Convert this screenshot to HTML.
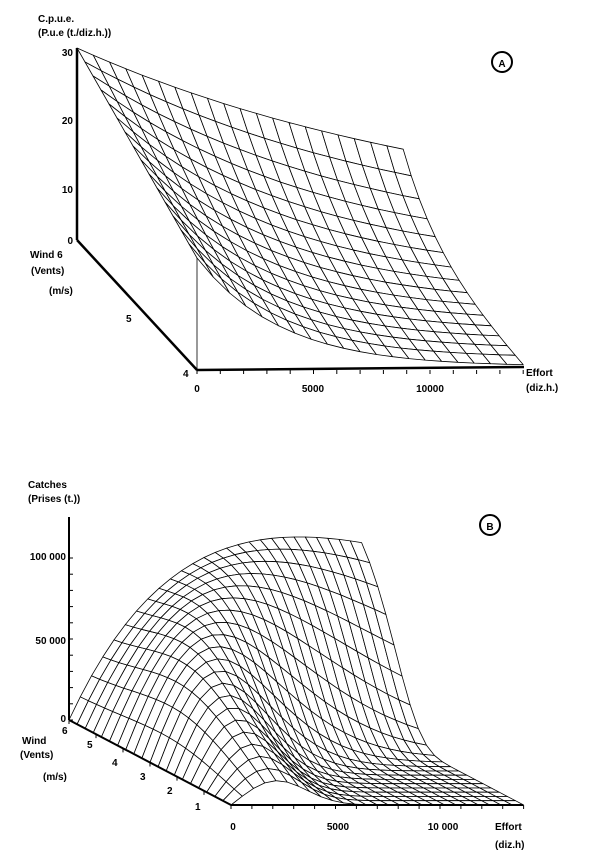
<!DOCTYPE html>
<html><head><meta charset="utf-8"><style>
html,body{margin:0;padding:0;background:#fff;}
svg{display:block;}
text{font-family:"Liberation Sans",sans-serif;font-weight:bold;font-size:10px;fill:#000;}
</style></head><body>
<svg id="s" width="600" height="857" viewBox="0 0 600 857" xmlns="http://www.w3.org/2000/svg">
<g id="A"></g><g id="B"></g>
<g stroke="#000" fill="none">
<line x1="77" y1="48" x2="77" y2="240" stroke-width="2.5"/>
<line x1="77" y1="240" x2="197" y2="370" stroke-width="2.5"/>
<line x1="197" y1="370" x2="524" y2="367" stroke-width="2.5"/>
<line x1="197" y1="258" x2="197" y2="370" stroke-width="0.8"/>
<circle cx="502" cy="62" r="10" stroke-width="2"/>
<line x1="69" y1="517" x2="69" y2="720" stroke-width="2"/>
<line x1="69" y1="720" x2="231" y2="805" stroke-width="2"/>
<line x1="231" y1="805" x2="523" y2="805" stroke-width="2"/>
<circle cx="490" cy="525" r="10" stroke-width="2"/>
</g>
<g id="ticks" stroke="#000" stroke-width="1"></g>
<text x="38" y="22">C.p.u.e.</text>
<text x="38" y="36">(P.u.e (t./diz.h.))</text>
<text x="73" y="56" text-anchor="end" font-size="11">30</text>
<text x="73" y="124" text-anchor="end" font-size="11">20</text>
<text x="73" y="193" text-anchor="end" font-size="11">10</text>
<text x="73" y="244" text-anchor="end" font-size="11">0</text>
<text x="30" y="258">Wind 6</text>
<text x="31" y="274">(Vents)</text>
<text x="49" y="294">(m/s)</text>
<text x="126" y="322" font-size="11">5</text>
<text x="183" y="377" font-size="11">4</text>
<text x="197" y="392" text-anchor="middle" font-size="11">0</text>
<text x="313" y="392" text-anchor="middle" font-size="11">5000</text>
<text x="430" y="392" text-anchor="middle" font-size="11">10000</text>
<text x="526" y="376">Effort</text>
<text x="526" y="391">(diz.h.)</text>
<text x="502" y="67" text-anchor="middle" font-size="13">A</text>
<text x="490" y="530" text-anchor="middle" font-size="13">B</text>
<text x="28" y="488">Catches</text>
<text x="28" y="502">(Prises (t.))</text>
<text x="66" y="560" text-anchor="end" font-size="11">100 000</text>
<text x="66" y="644" text-anchor="end" font-size="11">50 000</text>
<text x="66" y="722" text-anchor="end" font-size="11">0</text>
<text x="62" y="734" font-size="11">6</text>
<text x="87" y="748" font-size="11">5</text>
<text x="112" y="766" font-size="11">4</text>
<text x="140" y="780" font-size="11">3</text>
<text x="167" y="794" font-size="11">2</text>
<text x="195" y="810" font-size="11">1</text>
<text x="22" y="744">Wind</text>
<text x="20" y="758">(Vents)</text>
<text x="43" y="780">(m/s)</text>
<text x="233" y="830" text-anchor="middle" font-size="11">0</text>
<text x="338" y="830" text-anchor="middle" font-size="11">5000</text>
<text x="443" y="830" text-anchor="middle" font-size="11">10 000</text>
<text x="495" y="830">Effort</text>
<text x="495" y="848">(diz.h)</text>
</svg>
<script>
var NS="http://www.w3.org/2000/svg";
function poly(g,pts){var p=document.createElementNS(NS,"polygon");p.setAttribute("points",pts.map(function(q){return q[0].toFixed(1)+","+q[1].toFixed(1)}).join(" "));p.setAttribute("fill","#fff");p.setAttribute("stroke","#000");p.setAttribute("stroke-width","0.8");p.setAttribute("stroke-linejoin","round");g.appendChild(p);}
(function(){
var g=document.getElementById("A");
function P(E,W){var t=(W-4)/2;var a=17.5+12.5*t;var b=0.27+(0.0557-0.27)*t;var z=a*Math.exp(-b*E);
return [197+23.3*E-60*(W-4),370-0.2*E-65*(W-4)-6.4*z];}
var nE=20,nW=15,Em=14;
for(var j=nW-1;j>=0;j--){var W1=4+2*(j+1)/nW,W0=4+2*j/nW;
for(var i=0;i<nE;i++){var E0=Em*i/nE,E1=Em*(i+1)/nE;
poly(g,[P(E0,W1),P(E1,W1),P(E1,W0),P(E0,W0)]);}}
})();
(function(){
var g=document.getElementById("B");
function C(E,W){var u=W/6;var Ep=2.2+8.8*Math.pow(u,3);var A=15+98*u;var p=1+1.5*(1-u);var r=E/Ep;return A*r*Math.exp((1-Math.pow(r,p))/p);}
function P(E,W){return [231+20.9*E-27*W,805-14.17*W-1.62*C(E,W)];}
var nE=26,nW=20,Em=14;
for(var j=nW-1;j>=0;j--){var W1=6*(j+1)/nW,W0=6*j/nW;
for(var i=0;i<nE;i++){var E0=Em*i/nE,E1=Em*(i+1)/nE;
poly(g,[P(E0,W1),P(E1,W1),P(E1,W0),P(E0,W0)]);}}
})();
(function(){
var g=document.getElementById("ticks");
function L(x1,y1,x2,y2){var l=document.createElementNS(NS,"line");l.setAttribute("x1",x1);l.setAttribute("y1",y1);l.setAttribute("x2",x2);l.setAttribute("y2",y2);g.appendChild(l);}
for(var k=0;k<=14;k++){var x=197+23.3*k;L(x,370,x,374);}
for(var k=0;k<=14;k++){var x=231+20.9*k;L(x,805,x,809);}
for(var k=0;k<=10;k++){var y=720-16.2*k;L(69,y,73,y);}
for(var k=0;k<=6;k++){L(69+27*k,720+14.17*k,69+27*k,724+14.17*k);}
})();
</script>
</body></html>
